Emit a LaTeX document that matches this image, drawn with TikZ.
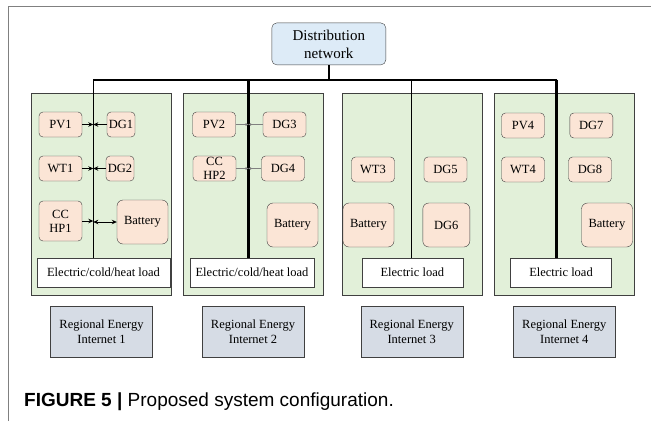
\documentclass[tikz,border=0pt]{standalone}
\usepackage{fontspec}
\setmainfont{Liberation Serif}
\newfontfamily\capfont{Liberation Sans}
\usepackage{xcolor}
\usepackage{tikz}
\definecolor{netblue}{RGB}{221, 235, 247}
\definecolor{areagreen}{RGB}{226, 240, 217}
\definecolor{unitpeach}{RGB}{251, 229, 214}
\definecolor{ieblue}{RGB}{214, 220, 229}
\definecolor{edgegray}{RGB}{64, 64, 64}
\definecolor{framegray}{RGB}{128, 128, 128}
\usetikzlibrary{arrows.meta, positioning}

\begin{document}
\begin{tikzpicture}[
    x=1pt, y=-1pt,
    network/.style={rectangle, draw=edgegray, fill=netblue, 
                    minimum width=114pt, minimum height=42pt, inner sep=0pt, align=center,
                    rounded corners=5pt, font=\fontsize{15}{18}\selectfont},
    area/.style={rectangle, draw=edgegray, fill=areagreen, 
                 minimum width=140pt, minimum height=202pt, inner sep=0pt},
    unit/.style={rectangle, draw=edgegray, fill=unitpeach, 
                 minimum width=43pt, minimum height=25pt, inner sep=0pt, align=center,
                 rounded corners=4pt, font=\fontsize{12.5}{14}\selectfont},
    store/.style={unit, minimum width=51pt, minimum height=44pt, rounded corners=6pt},
    load/.style={rectangle, draw=edgegray, fill=white, minimum height=29pt, 
                 inner sep=0pt, font=\fontsize{12.5}{14}\selectfont},
    iebox/.style={rectangle, draw=edgegray, fill=ieblue, 
                  minimum width=102pt, minimum height=51pt, inner sep=0pt, align=center,
                  font=\fontsize{12.5}{15}\selectfont},
    feed/.style={-{Stealth[length=5pt, width=4.5pt]}, thick},
    twofeed/.style={{Stealth[length=5pt, width=4.5pt]}-{Stealth[length=5pt, width=4.5pt]}, thick},
    thinfeed/.style={-{Stealth[length=3pt, width=3pt]}, semithick, gray}
]
    \useasboundingbox (0,0) rectangle (651,421);
    % Frame
    \draw[framegray] (8,421) |- (651,6);

    % Distribution network and bus
    \node[network] (net) at (328.8,43.9) {Distribution\\network};
    \coordinate (bus1) at (93.3,79.5);
    \coordinate (bus2) at (248.3,79.5);
    \coordinate (bus3) at (411.7,79.5);
    \coordinate (bus4) at (556.5,79.5);
    \draw[line width=2.5pt] (net.south) -- (net.south |- bus1);
    \draw[line width=2pt] (bus1) -- (bus4);

    % Regions
    \node[area] (area1) at (101.5,194) {};
    \node[area] (area2) at (253,194) {};
    \node[area] (area3) at (411.7,194) {};
    \node[area] (area4) at (564.3,194) {};

    % Loads
    \node[load, minimum width=133pt] (load1) at (103.5,272.5) {Electric/cold/heat load};
    \node[load, minimum width=124pt] (load2) at (252,272.5) {Electric/cold/heat load};
    \node[load, minimum width=101pt] (load3) at (412.3,272.5) {Electric load};
    \node[load, minimum width=101pt] (load4) at (561,272.5) {Electric load};

    % Feeders
    \draw[line width=1.5pt] (bus1) -- (bus1 |- load1.north);
    \draw[line width=3pt] (bus2) -- (bus2 |- load2.north);
    \draw[line width=1.5pt] (bus3) -- (bus3 |- load3.north);
    \draw[line width=3pt] (bus4) -- (bus4 |- load4.north);

    % Region 1
    \node[unit] (pv1) at (60.5,124.5) {PV1};
    \node[unit, minimum width=28pt] (dg1) at (121,124.5) {DG1};
    \node[unit] (wt1) at (60.5,168.5) {WT1};
    \node[unit, minimum width=28pt] (dg2) at (120,168.5) {DG2};
    \node[unit, minimum height=40pt] (cchp1) at (60.5,221) {CC\\HP1};
    \node[store] (bat1) at (142.5,222) {Battery};

    % Region 2
    \node[unit] (pv2) at (214,124.5) {PV2};
    \node[unit] (dg3) at (284.5,124.5) {DG3};
    \node[unit] (cchp2) at (214.5,168.5) {CC\\HP2};
    \node[unit] (dg4) at (283,168.5) {DG4};
    \node[store] (bat2) at (292.5,225) {Battery};

    % Region 3
    \node[unit] (wt3) at (373,169.5) {WT3};
    \node[unit] (dg5) at (445.5,169.5) {DG5};
    \node[store] (bat3) at (368.5,225) {Battery};
    \node[store, minimum width=47pt] (dg6) at (446.3,225) {DG6};

    % Region 4
    \node[unit] (pv4) at (523,125.5) {PV4};
    \node[unit] (dg7) at (591.3,125.5) {DG7};
    \node[unit] (wt4) at (523,169.5) {WT4};
    \node[unit] (dg8) at (590,169.5) {DG8};
    \node[store] (bat4) at (607,225) {Battery};

    % Regional energy internets
    \node[iebox, below=11pt of area1] (ie1) {Regional Energy\\Internet 1};
    \node[iebox, below=11pt of area2] (ie2) {Regional Energy\\Internet 2};
    \node[iebox, below=11pt of area3] (ie3) {Regional Energy\\Internet 3};
    \node[iebox, below=11pt of area4] (ie4) {Regional Energy\\Internet 4};

    % Arrows
    \draw[feed] (pv1) -- (pv1 -| bus1);
    \draw[feed] (dg1) -- (dg1 -| bus1);
    \draw[feed] (wt1) -- (wt1 -| bus1);
    \draw[feed] (dg2) -- (dg2 -| bus1);
    \draw[feed] (cchp1) -- (cchp1 -| bus1);
    \draw[twofeed] (bat1.west) -- (bat1.west -| bus1);
    \draw[thinfeed] (pv2) -- (pv2 -| bus2);
    \draw[thinfeed] (dg3) -- (dg3 -| bus2);
    \draw[thinfeed] (cchp2) -- (cchp2 -| bus2);
    \draw[thinfeed] (dg4) -- (dg4 -| bus2);

    % Caption
    \node[anchor=west, inner sep=0pt, font=\capfont\fontsize{19}{22}\selectfont] (caption) at (24,402)
        {\textbf{FIGURE 5 |} Proposed system configuration.};
\end{tikzpicture}
\end{document}
